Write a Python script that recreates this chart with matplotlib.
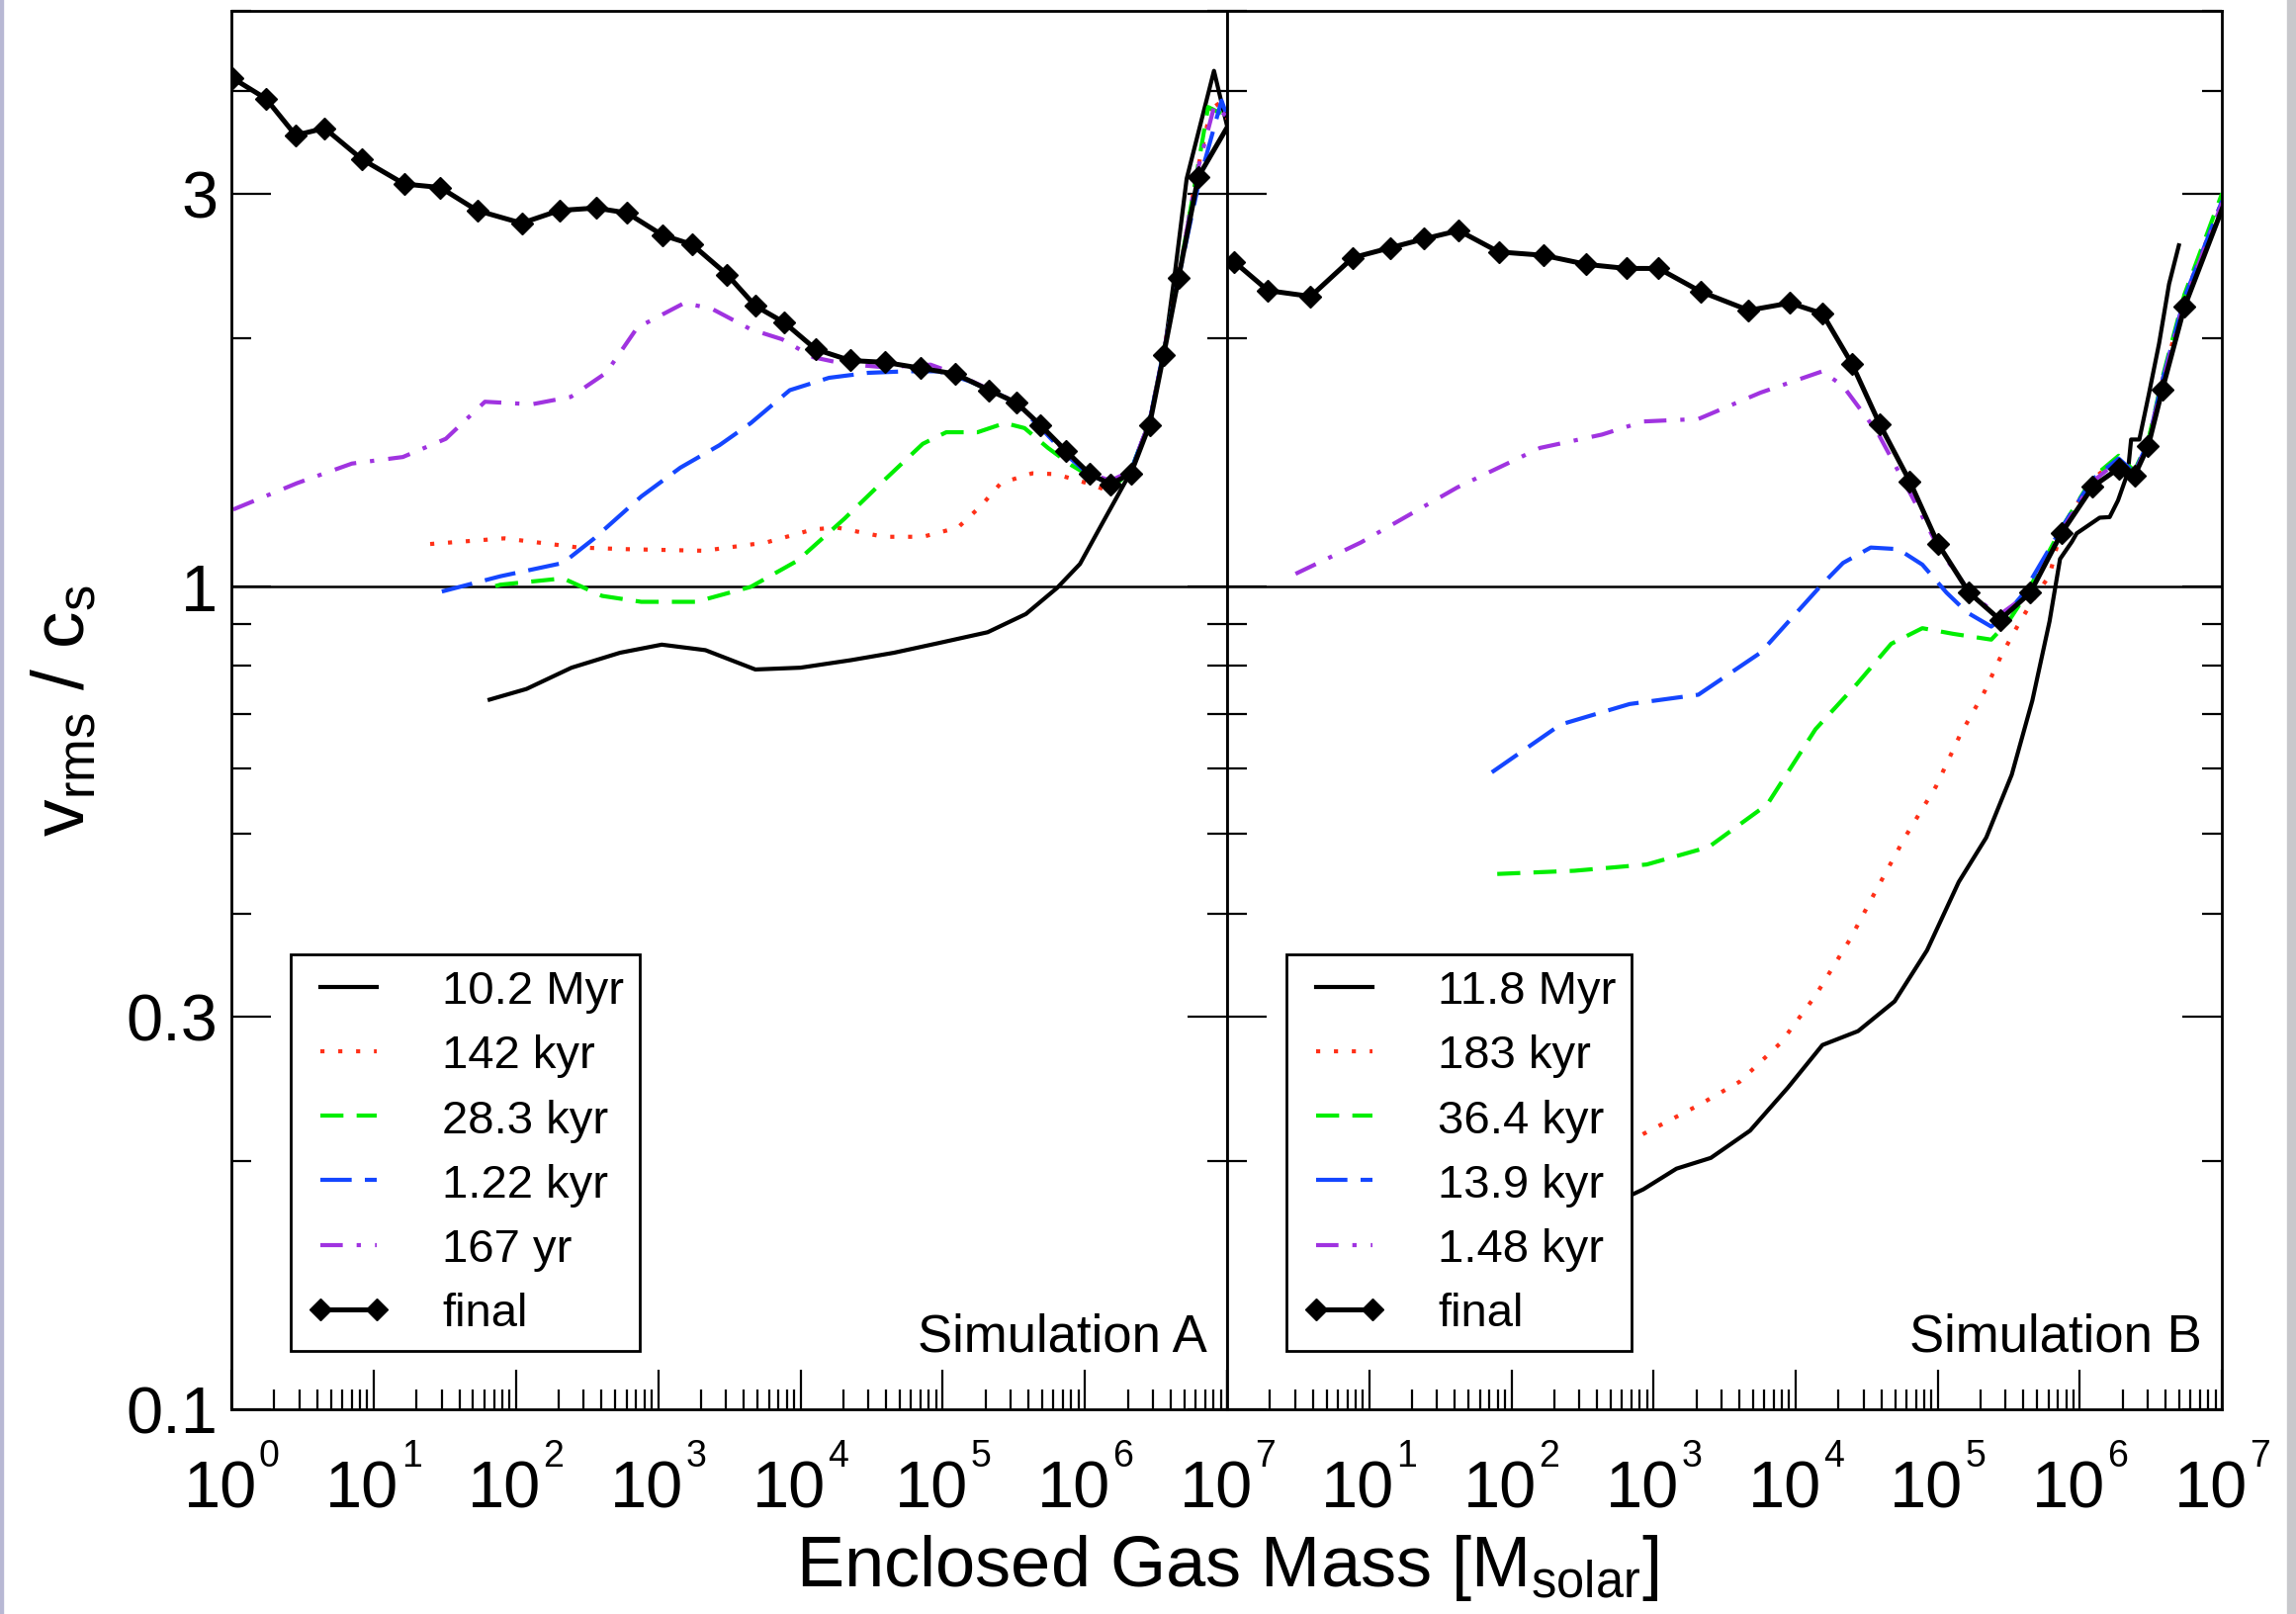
"""Velocity dispersion profiles for the two simulations."""

import matplotlib
matplotlib.use("Agg")
import matplotlib.pyplot as plt
import numpy as np
from matplotlib.patches import Rectangle
from matplotlib.ticker import FixedLocator, FixedFormatter, LogLocator, NullFormatter

plt.rcParams["font.family"] = ["Liberation Sans", "DejaVu Sans"]
plt.rcParams["mathtext.fontset"] = "custom"
plt.rcParams["mathtext.rm"] = "Liberation Sans"
plt.rcParams["mathtext.it"] = "Liberation Sans:italic"
plt.rcParams["lines.scale_dashes"] = False

# ---- Simulation A (x values are log10 of enclosed mass) ----
a_final_logm = [0.01, 0.243, 0.451, 0.655, 0.918, 1.215, 1.468, 1.727, 2.040, 2.304, 2.562, 2.782,
                3.029, 3.239, 3.485, 3.683, 3.887, 4.107, 4.349, 4.596, 4.844, 5.091, 5.327, 5.519,
                5.685, 5.866, 6.031, 6.179, 6.322, 6.454, 6.553, 6.658, 6.796, 7.0]
a_final_v = [4.14, 3.91, 3.53, 3.60, 3.30, 3.08, 3.05, 2.86, 2.76, 2.86, 2.88, 2.84,
             2.67, 2.60, 2.39, 2.19, 2.09, 1.94, 1.88, 1.87, 1.84, 1.81, 1.73, 1.67,
             1.57, 1.46, 1.37, 1.33, 1.37, 1.57, 1.91, 2.37, 3.14, 3.61]

a_t0_logm = [1.815, 2.074, 2.391, 2.732, 3.025, 3.332, 3.683, 4.000, 4.356, 4.658, 4.975, 5.316,
             5.585, 5.804, 5.965, 6.115, 6.23, 6.32, 6.455, 6.564, 6.632, 6.715, 6.907, 6.995]
a_t0_v = [0.728, 0.750, 0.796, 0.830, 0.849, 0.836, 0.792, 0.796, 0.813, 0.830, 0.853, 0.879,
          0.925, 0.995, 1.064, 1.186, 1.288, 1.374, 1.585, 1.959, 2.399, 3.126, 4.227, 3.648]

a_t1_logm = [1.397, 1.919, 2.441, 2.771, 3.321, 3.760, 4.090, 4.256, 4.585, 4.860, 5.107, 5.272,
             5.409, 5.629, 5.795, 6.014, 6.179, 6.322, 6.454, 6.553, 6.658, 6.784, 6.90, 7.0]
a_t1_v = [1.125, 1.143, 1.114, 1.109, 1.104, 1.130, 1.172, 1.178, 1.148, 1.148, 1.178, 1.253,
          1.334, 1.371, 1.368, 1.334, 1.303, 1.38, 1.585, 1.93, 2.37, 3.16, 3.91, 3.70]

a_t2_logm = [1.855, 1.891, 2.331, 2.606, 2.881, 3.266, 3.651, 3.980, 4.310, 4.585, 4.860, 5.025,
             5.245, 5.437, 5.575, 5.740, 5.904, 6.069, 6.207, 6.322, 6.454, 6.553, 6.658, 6.784,
             6.866, 7.0]
a_t2_v = [1.0, 1.004, 1.022, 0.973, 0.957, 0.957, 0.998, 1.074, 1.208, 1.343, 1.489, 1.538,
          1.538, 1.578, 1.556, 1.472, 1.403, 1.349, 1.324, 1.38, 1.585, 1.93, 2.37, 3.16,
          3.82, 3.72]

a_t3_logm = [1.479, 1.891, 2.331, 2.551, 2.881, 3.156, 3.430, 3.651, 3.925, 4.201, 4.475, 4.750,
             4.970, 5.190, 5.409, 5.519, 5.685, 5.866, 6.031, 6.179, 6.322, 6.454, 6.553, 6.658,
             6.80, 6.96, 7.0]
a_t3_v = [0.985, 1.028, 1.067, 1.143, 1.285, 1.393, 1.483, 1.578, 1.730, 1.791, 1.816, 1.824,
          1.824, 1.774, 1.706, 1.663, 1.56, 1.445, 1.365, 1.334, 1.38, 1.585, 1.93, 2.37,
          3.09, 3.89, 3.72]

a_t4_logm = [0.012, 0.462, 0.847, 1.205, 1.507, 1.782, 2.111, 2.386, 2.634, 2.853, 3.184, 3.376,
             3.651, 3.870, 4.090, 4.310, 4.585, 4.915, 5.107, 5.327, 5.519, 5.685, 5.866, 6.031,
             6.179, 6.322, 6.454, 6.553, 6.658, 6.784, 6.91, 7.0]
a_t4_v = [1.239, 1.334, 1.409, 1.435, 1.510, 1.675, 1.663, 1.698, 1.816, 2.061, 2.208, 2.173,
          2.051, 1.995, 1.897, 1.862, 1.845, 1.858, 1.807, 1.734, 1.671, 1.567, 1.455, 1.371,
          1.343, 1.380, 1.585, 1.928, 2.371, 3.162, 3.837, 3.715]

a_labels = ["10.2 Myr", "142 kyr", "28.3 kyr", "1.22 kyr", "167 yr", "final"]

# ---- Simulation B ----
b_final_logm = [0.05, 0.287, 0.587, 0.883, 1.145, 1.387, 1.629, 1.910, 2.225, 2.526, 2.807, 3.035,
                3.330, 3.669, 3.960, 4.188, 4.396, 4.590, 4.803, 5.002, 5.220, 5.438, 5.651, 5.869,
                6.090, 6.272, 6.383, 6.480, 6.580, 6.735, 7.0]
b_final_v = [2.477, 2.286, 2.249, 2.506, 2.576, 2.642, 2.704, 2.547, 2.523, 2.460, 2.432, 2.432,
             2.280, 2.163, 2.208, 2.143, 1.862, 1.574, 1.340, 1.125, 0.982, 0.910, 0.982, 1.159,
             1.321, 1.390, 1.361, 1.479, 1.734, 2.183, 2.871]

b_t0_logm = [2.6, 2.928, 3.161, 3.403, 3.679, 3.946, 4.188, 4.439, 4.696, 4.924, 5.147, 5.341,
             5.520, 5.665, 5.786, 5.860, 5.943, 5.977, 6.139, 6.209, 6.268, 6.337, 6.360, 6.418,
             6.487, 6.557, 6.627, 6.696]
b_t0_v = [0.174, 0.185, 0.196, 0.202, 0.218, 0.246, 0.277, 0.288, 0.313, 0.361, 0.437, 0.495,
          0.590, 0.726, 0.906, 1.079, 1.132, 1.159, 1.211, 1.213, 1.271, 1.374, 1.507, 1.507,
          1.718, 1.972, 2.328, 2.594]

b_t1_logm = [2.6, 2.928, 3.315, 3.606, 3.897, 4.139, 4.381, 4.575, 4.768, 4.987, 5.156, 5.326,
             5.447, 5.568, 5.690, 5.786, 5.869, 6.09, 6.272, 6.383, 6.48, 6.58, 6.735, 7.0]
b_t1_v = [0.20, 0.216, 0.234, 0.250, 0.279, 0.318, 0.372, 0.430, 0.495, 0.571, 0.659, 0.743,
          0.824, 0.899, 0.975, 1.030, 1.175, 1.349, 1.429, 1.374, 1.496, 1.778, 2.239, 2.938]

b_t2_logm = [1.900, 2.443, 2.952, 3.388, 3.800, 4.139, 4.429, 4.672, 4.891, 5.109, 5.376, 5.497,
             5.618, 5.869, 6.09, 6.272, 6.383, 6.48, 6.58, 6.735, 7.0]
b_t2_v = [0.447, 0.451, 0.459, 0.482, 0.543, 0.670, 0.760, 0.851, 0.889, 0.875, 0.861, 0.906,
          0.975, 1.175, 1.355, 1.44, 1.38, 1.50, 1.79, 2.26, 3.0]

b_t3_logm = [1.862, 2.346, 2.831, 3.315, 3.752, 4.188, 4.333, 4.528, 4.721, 4.891, 5.061, 5.206,
             5.376, 5.472, 5.593, 5.869, 6.09, 6.272, 6.383, 6.48, 6.58, 6.735, 7.0]
b_t3_v = [0.594, 0.679, 0.719, 0.738, 0.830, 1.006, 1.067, 1.114, 1.109, 1.062, 0.982, 0.929,
          0.893, 0.920, 0.975, 1.175, 1.349, 1.429, 1.374, 1.496, 1.778, 2.239, 2.938]

b_t4_logm = [0.481, 0.941, 1.619, 2.201, 2.637, 2.928, 3.315, 3.752, 4.188, 4.333, 4.575, 4.818,
             5.011, 5.220, 5.423, 5.651, 5.869, 6.09, 6.272, 6.383, 6.48, 6.58, 6.735, 7.0]
b_t4_v = [1.035, 1.130, 1.318, 1.472, 1.528, 1.585, 1.596, 1.718, 1.824, 1.750, 1.538, 1.285,
          1.109, 0.985, 0.920, 0.982, 1.165, 1.340, 1.420, 1.368, 1.490, 1.765, 2.22, 2.92]

b_labels = ["11.8 Myr", "183 kyr", "36.4 kyr", "13.9 kyr", "1.48 kyr", "final"]

# styles: thin black, red dotted, green dashed, blue long dash, purple dash-dot
colors = ["black", "#ff3018", "#00ee00", "#1446ff", "#a033e0"]
dashes = [None, (3.0, 10.0), (16.8, 9.6), (22.8, 9.6), (16.3, 10.1, 3.1, 10.3)]

y_major = [0.1, 0.3, 1, 3]
y_minor = [0.2, 0.4, 0.5, 0.6, 0.7, 0.8, 0.9, 2, 4, 5]
decades = list(range(8))


def draw_panel(ax, series, final, labels, sim_name, first):
    handles = []
    for (logm, v), col, dash, lab in zip(series, colors, dashes, labels[:5]):
        (ln,) = ax.plot(10 ** np.array(logm), v, color=col, lw=3.0, label=lab)
        if dash is not None:
            ln.set_dashes(dash)
        handles.append(ln)
    logm, v = final
    (ln,) = ax.plot(10 ** np.array(logm), v, color="black", lw=3.6, marker="D", ms=11.5,
                    markevery=slice(0, len(v) - 1), label=labels[5], zorder=5)
    handles.append(ln)
    ax.axhline(1.0, color="black", lw=1.8, zorder=1)

    ax.set_xscale("log")
    ax.set_yscale("log")
    ax.set_xlim(1, 1e7)
    ax.set_ylim(0.1, 5)

    ax.xaxis.set_major_locator(FixedLocator([10.0 ** k for k in decades]))
    ax.xaxis.set_major_formatter(NullFormatter())
    ax.xaxis.set_minor_locator(LogLocator(base=10, subs=np.arange(2, 10), numticks=20))
    ax.xaxis.set_minor_formatter(NullFormatter())

    # decade labels drawn as "10" plus a small raised exponent
    xt = ax.get_xaxis_transform()
    for k in decades:
        if k == 0 and not first:
            continue
        ax.annotate("10", xy=(10.0 ** k, 0), xycoords=xt, xytext=(18.5, -71),
                    textcoords="offset points", ha="right", va="baseline",
                    fontsize=48, annotation_clip=False)
        ax.annotate(str(k), xy=(10.0 ** k, 0), xycoords=xt, xytext=(20, -41),
                    textcoords="offset points", ha="left", va="baseline",
                    fontsize=27, annotation_clip=False)

    ax.yaxis.set_major_locator(FixedLocator(y_major))
    ax.yaxis.set_major_formatter(FixedFormatter(["0.1", "0.3", "1", "3"]))
    ax.yaxis.set_minor_locator(FixedLocator(y_minor))
    ax.yaxis.set_minor_formatter(NullFormatter())

    ax.tick_params(which="both", direction="in", top=False, left=True, right=True, width=1.6)
    ax.tick_params(which="major", length=29, labelsize=48)
    ax.tick_params(which="minor", length=14.5)
    ax.tick_params(axis="y", which="major", pad=10, labelleft=first)
    for sp in ax.spines.values():
        sp.set_linewidth(2.0)

    leg = ax.legend(handles=handles, loc="lower left", bbox_to_anchor=(0.06, 0.0417),
                    borderaxespad=0, fontsize=34, frameon=True, fancybox=False,
                    edgecolor="black", framealpha=1, numpoints=2, handlelength=1.8,
                    handletextpad=1.1, borderpad=0.33, labelspacing=0.45)
    leg.get_frame().set_linewidth(2.0)
    leg.set_zorder(10)

    ax.text(0.98, 0.0417, sim_name, transform=ax.transAxes, ha="right", va="baseline",
            fontsize=38)


fig = plt.figure(figsize=(23.22, 16.33), dpi=100)
ax_a = fig.add_axes([0.1008, 0.1268, 0.4337, 0.8659])
ax_b = fig.add_axes([0.5345, 0.1268, 0.4333, 0.8659])

series_a = [(a_t0_logm, a_t0_v), (a_t1_logm, a_t1_v), (a_t2_logm, a_t2_v),
            (a_t3_logm, a_t3_v), (a_t4_logm, a_t4_v)]
series_b = [(b_t0_logm, b_t0_v), (b_t1_logm, b_t1_v), (b_t2_logm, b_t2_v),
            (b_t3_logm, b_t3_v), (b_t4_logm, b_t4_v)]

draw_panel(ax_a, series_a, (a_final_logm, a_final_v), a_labels, "Simulation A", True)
draw_panel(ax_b, series_b, (b_final_logm, b_final_v), b_labels, "Simulation B", False)

fig.text(0.5345, 1 - 1604 / 1633, r"Enclosed Gas Mass [M$\mathregular{_{solar}}$]",
         ha="center", va="baseline", fontsize=52)
fig.text(0.028, 0.56, r"$\mathregular{v_{rms}\ /\ c_{s}}$", rotation=90,
         ha="center", va="center", fontsize=54)

# thin window-edge strips seen in the original screenshot
fig.patches.append(Rectangle((0, 0), 0.0015, 1, transform=fig.transFigure,
                             color="#b8b8d4", zorder=0))
fig.patches.append(Rectangle((0.9961, 0), 0.0039, 1, transform=fig.transFigure,
                             color="#c8c8cc", zorder=0))

fig.savefig("out.png", dpi=100)
plt.close(fig)
